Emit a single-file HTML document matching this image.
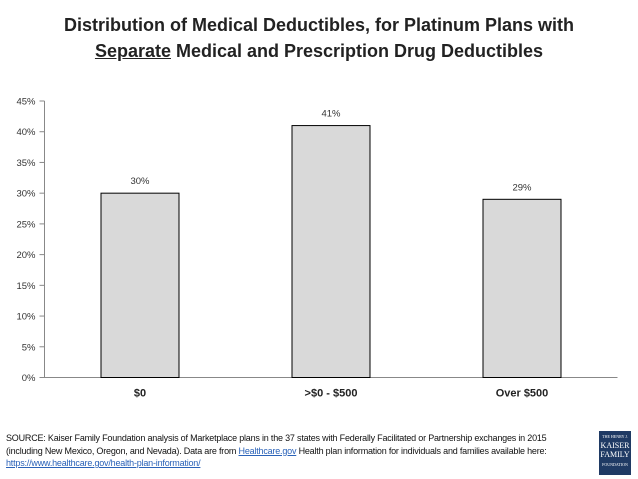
<!DOCTYPE html>
<html><head><meta charset="utf-8">
<style>
body{margin:0;width:638px;height:479px;background:#fff;font-family:"Liberation Sans",sans-serif;overflow:hidden;position:relative}
#title{position:absolute;top:12px;left:0;width:638px;text-align:center;font-weight:bold;font-size:18px;line-height:26px;color:#222}
#src{position:absolute;left:6px;top:432px;font-size:9px;line-height:12.5px;color:#111;letter-spacing:-0.2px}
a{color:#2a62b8;text-decoration:underline}
#logo{position:absolute;left:599px;top:431px;width:32px;height:44px;background:#1f3a64;color:#fff;font-family:"Liberation Serif",serif;text-align:center;font-size:8px;line-height:9px}
</style></head><body>
<div id="title">Distribution of Medical Deductibles, for Platinum Plans with<br><u>Separate</u> Medical and Prescription Drug Deductibles</div>
<svg id="chart" width="638" height="479" style="position:absolute;left:0;top:0"></svg>
<div id="src">SOURCE: Kaiser Family Foundation analysis of Marketplace plans in the 37 states with Federally Facilitated or Partnership exchanges in 2015<br>(including New Mexico, Oregon, and Nevada). Data are from <a>Healthcare.gov</a> Health plan information for individuals and families available here:<br><a>https://www.healthcare.gov/health-plan-information/</a></div>
<div id="logo"><span style="font-size:4px">THE HENRY J.</span><br>KAISER<br>FAMILY<br><span style="font-size:4px">FOUNDATION</span></div>
<script>
const categories=["$0",">$0 - $500","Over $500"];
const values=[30,41,29];
const ticks=[0,5,10,15,20,25,30,35,40,45];
const svg=document.getElementById('chart');
const NS='http://www.w3.org/2000/svg';
const x0=44.5,x1=617.5,y0=377.5,yTop=101;
const y=v=>y0-(v/45)*(y0-yTop);
const bw=(x1-x0)/categories.length;
const cx=i=>x0+bw*(i+0.5);
function mk(t,a){const e=document.createElementNS(NS,t);for(const k in a)e.setAttribute(k,a[k]);svg.appendChild(e);return e;}
let e=mk('line',{x1:x0,y1:yTop,x2:x0,y2:y0,stroke:'#888'});


e=mk('line',{x1:x0,y1:y0,x2:x1,y2:y0,stroke:'#888'});


ticks.forEach(t=>{
 mk('line',{x1:x0-5,y1:y(t),x2:x0,y2:y(t),stroke:'#888'});
 const l=mk('text',{x:x0-9,y:y(t)+3.5,'text-anchor':'end','font-size':'9.5',fill:'#333'});
 l.textContent=t+'%';
 
 
});
categories.forEach((c,i)=>{
 const b=mk('rect',{x:cx(i)-39,y:y(values[i]),width:78,height:y0-y(values[i]),fill:'#d9d9d9',stroke:'#000','stroke-width':1});
 
 
 const v=mk('text',{x:cx(i),y:y(values[i])-9,'text-anchor':'middle','font-size':'9.5',fill:'#333'});
 v.textContent=values[i]+'%';
 
 
 const l=mk('text',{x:cx(i),y:y0+19,'text-anchor':'middle','font-size':'11','font-weight':'bold',fill:'#222'});
 l.textContent=c;
 
 
});
</script>
</body></html>
